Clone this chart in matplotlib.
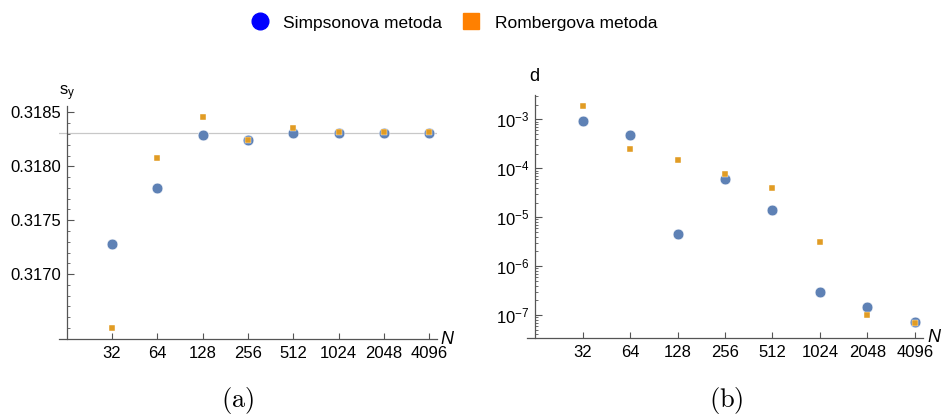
import matplotlib

matplotlib.use("Agg")

import matplotlib.pyplot as plt
import numpy as np
from matplotlib.lines import Line2D
from matplotlib.ticker import FixedLocator, LogLocator, MultipleLocator, NullFormatter

plt.rcParams["font.family"] = ["Liberation Sans", "DejaVu Sans"]
plt.rcParams["mathtext.fontset"] = "custom"
plt.rcParams["mathtext.rm"] = "Liberation Sans"
plt.rcParams["mathtext.it"] = "Liberation Sans:italic"

# data
N = [32, 64, 128, 256, 512, 1024, 2048, 4096]
sy_simpson = [0.317279, 0.317801, 0.318295, 0.318242, 0.318314, 0.318307, 0.318307, 0.318307]
sy_romberg = [0.316503, 0.318078, 0.318460, 0.318245, 0.318354, 0.318317, 0.318317, 0.318317]
d_simpson = [9.5e-4, 4.7e-4, 4.5e-6, 6.0e-5, 1.39e-5, 2.94e-7, 1.48e-7, 7.2e-8]
d_romberg = [1.90e-3, 2.52e-4, 1.50e-4, 7.8e-5, 4.03e-5, 3.18e-6, 9.85e-8, 7.0e-8]
sy_exact = 1 / np.pi

C_BLUE = "#5E81B5"
C_ORANGE = "#E19C24"
AX_COLOR = "#555555"


def style_axes(ax):
    ax.set_xscale("log", base=2)
    ax.set_xlim(2 ** 3.83, 2 ** 12.17)
    ax.set_xticks(N)
    ax.set_xticklabels([str(n) for n in N])
    ax.xaxis.set_minor_locator(FixedLocator([]))
    for side in ("top", "right"):
        ax.spines[side].set_visible(False)
    ax.spines["left"].set_position(("data", 16))
    for side in ("left", "bottom"):
        ax.spines[side].set_color(AX_COLOR)
        ax.spines[side].set_linewidth(0.9)
    ax.tick_params(which="major", direction="in", length=5, width=0.8,
                   color=AX_COLOR, labelsize=12, pad=4)
    ax.tick_params(which="minor", direction="in", length=2.5, width=0.6, color=AX_COLOR)
    ax.tick_params(axis="x", which="major", length=4, pad=5)


fig = plt.figure(figsize=(9.52, 4.17), dpi=100)

# (a) integral value
ax1 = fig.add_axes([59 / 952, 78 / 417, 378 / 952, 233 / 417])
ax1.axhline(sy_exact, color="#C8C8C8", lw=0.9, zorder=1)
ax1.scatter(N, sy_simpson, s=60, color=C_BLUE, edgecolors="white", linewidths=0.4, zorder=3)
ax1.scatter(N, sy_romberg, s=24, marker="s", color=C_ORANGE, edgecolors="white",
            linewidths=0.3, zorder=4)
style_axes(ax1)
ax1.set_ylim(0.316398, 0.31856)
ax1.yaxis.set_major_locator(FixedLocator([0.3170, 0.3175, 0.3180, 0.3185]))
ax1.yaxis.set_minor_locator(MultipleLocator(0.0001))
ax1.set_yticklabels(["0.3170", "0.3175", "0.3180", "0.3185"])
ax1.text(0.0, 1.015, r"$\mathrm{s_y}$", transform=ax1.transAxes, ha="left", va="bottom",
         fontsize=12)
ax1.text(1.01, 0.0, "N", transform=ax1.transAxes, ha="left", va="center",
         fontsize=13, style="italic")

# (b) error
ax2 = fig.add_axes([527 / 952, 79 / 417, 396 / 952, 243 / 417])
ax2.scatter(N, d_simpson, s=60, color=C_BLUE, edgecolors="white", linewidths=0.4, zorder=3)
ax2.scatter(N, d_romberg, s=24, marker="s", color=C_ORANGE, edgecolors="white",
            linewidths=0.3, zorder=4)
ax2.set_yscale("log")
style_axes(ax2)
ax2.set_ylim(10 ** -7.47, 10 ** -2.5)
ax2.yaxis.set_major_locator(FixedLocator([1e-7, 1e-6, 1e-5, 1e-4, 1e-3]))
ax2.set_yticklabels([r"$10^{-7}$", r"$10^{-6}$", r"$10^{-5}$", r"$10^{-4}$", r"$10^{-3}$"])
ax2.yaxis.set_minor_locator(LogLocator(base=10, subs=np.arange(2, 10), numticks=20))
ax2.yaxis.set_minor_formatter(NullFormatter())
ax2.text(0.005, 1.04, "d", transform=ax2.transAxes, ha="left", va="bottom", fontsize=13)
ax2.text(1.01, 0.0, "N", transform=ax2.transAxes, ha="left", va="center",
         fontsize=13, style="italic")

handles = [
    Line2D([], [], ls="none", marker="o", markersize=12, color="#0000FF",
           label="Simpsonova metoda"),
    Line2D([], [], ls="none", marker="s", markersize=12, color="#FF8000",
           label="Rombergova metoda"),
]
fig.legend(handles=handles, loc="center", bbox_to_anchor=(0.477, 0.945), ncol=2,
           frameon=False, fontsize=12.5, handlelength=1.0, handletextpad=0.85,
           columnspacing=1.17)

fig.text(0.2495, 0.04, r"$\mathrm{(a)}$", math_fontfamily="cm", fontsize=19,
         ha="center", va="center")
fig.text(0.763, 0.04, r"$\mathrm{(b)}$", math_fontfamily="cm", fontsize=19,
         ha="center", va="center")

fig.savefig("out.png", dpi=100)
